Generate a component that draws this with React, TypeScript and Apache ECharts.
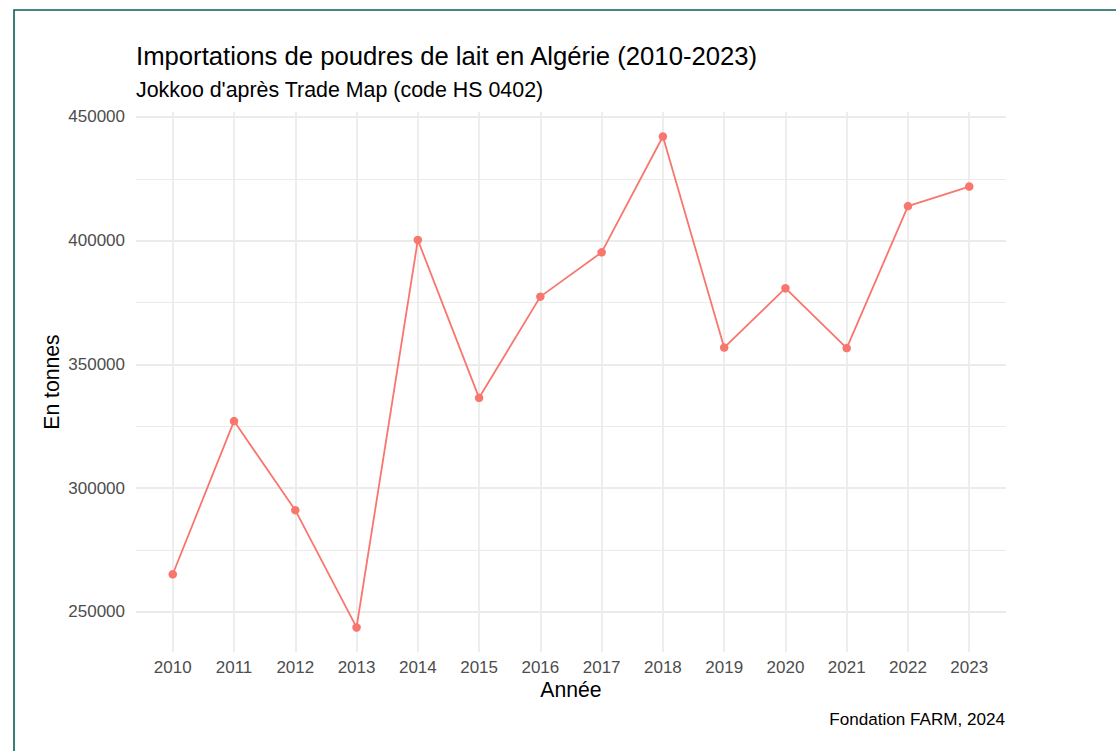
import React, { useEffect, useRef } from "react";
import * as echarts from "echarts";

const years = [2010, 2011, 2012, 2013, 2014, 2015, 2016, 2017, 2018, 2019, 2020, 2021, 2022, 2023];
const imports = [265200, 327100, 291100, 243700, 400300, 336500, 377400, 395300, 442100, 356800, 380800, 356600, 414000, 421900];
const yMajorTicks = [250000, 300000, 350000, 400000, 450000];
const yMinorTicks = [275000, 325000, 375000, 425000];

const titleText = "Importations de poudres de lait en Algérie (2010-2023)";
const subtitleText = "Jokkoo d'après Trade Map (code HS 0402)";
const captionText = "Fondation FARM, 2024";
const xName = "Année";
const yName = "En tonnes";

const FONT = "'Liberation Sans', Arial, Helvetica, sans-serif";

export default function App() {
  const ref = useRef<HTMLDivElement>(null);
  useEffect(() => {
    if (!ref.current) return;
    const chart = echarts.init(ref.current, undefined, { renderer: "svg" });
    const yLo = Math.min(...imports);
    const yHi = Math.max(...imports);
    const yPad = (yHi - yLo) * 0.05;
    const yMin = yLo - yPad;
    const yMax = yHi + yPad;
    const xMin = years[0] - 0.6;
    const xMax = years[years.length - 1] + 0.6;
    const gridLine = "#EBEBEB";
    chart.setOption({
      animation: false,
      backgroundColor: "#ffffff",
      textStyle: { fontFamily: FONT },
      title: [
        { text: titleText, left: 136, top: 43, padding: 0, textStyle: { fontFamily: FONT, fontSize: 25.7, fontWeight: "normal", color: "#000000" } },
        { text: subtitleText, left: 136, top: 79, padding: 0, textStyle: { fontFamily: FONT, fontSize: 21.4, fontWeight: "normal", color: "#000000" } },
        { text: captionText, right: 111, top: 711, padding: 0, textStyle: { fontFamily: FONT, fontSize: 17.1, fontWeight: "normal", color: "#000000" } },
      ],
      graphic: [
        { type: "rect", shape: { x: 14, y: 10, width: 1300, height: 900 }, style: { fill: "none", stroke: "#0b5f58", lineWidth: 1.6 }, silent: true },
      ],
      grid: { left: 136, right: 110, top: 112, bottom: 99, containLabel: false },
      xAxis: {
        type: "value",
        min: xMin,
        max: xMax,
        name: xName,
        nameLocation: "middle",
        nameGap: 27,
        nameMoveOverlap: false,
        nameTextStyle: { fontFamily: FONT, fontSize: 21.2, color: "#000000" },
        axisLine: { show: false },
        axisTick: { show: false, customValues: years },
        axisLabel: { customValues: years, formatter: (v: number) => String(v), fontSize: 17, color: "#4D4D4D", margin: 6.5, fontFamily: FONT },
        splitLine: { show: true, lineStyle: { color: gridLine, width: 1.8 } },
      },
      yAxis: [
        {
          type: "value",
          min: yMin,
          max: yMax,
          name: yName,
          nameLocation: "middle",
          nameGap: 74,
          nameMoveOverlap: false,
          nameRotate: 90,
          nameTextStyle: { fontFamily: FONT, fontSize: 21.2, color: "#000000" },
          axisLine: { show: false },
          axisTick: { show: false, customValues: yMajorTicks },
          axisLabel: { customValues: yMajorTicks, formatter: (v: number) => String(v), fontSize: 17, color: "#4D4D4D", margin: 11, fontFamily: FONT },
          splitLine: { show: true, lineStyle: { color: gridLine, width: 1.8 } },
          z: 1,
        },
        {
          type: "value",
          min: yMin,
          max: yMax,
          position: "left",
          axisLine: { show: false },
          axisTick: { show: false, customValues: yMinorTicks },
          axisLabel: { show: false, customValues: yMinorTicks },
          splitLine: { show: true, lineStyle: { color: gridLine, width: 1.0 } },
          z: 0,
        },
      ],
      series: [
        {
          type: "line",
          yAxisIndex: 0,
          data: years.map((y, i) => [y, imports[i]]),
          symbol: "circle",
          symbolSize: 8.5,
          lineStyle: { color: "#F8766D", width: 1.8 },
          itemStyle: { color: "#F8766D" },
          z: 5,
        },
      ],
    });
    return () => chart.dispose();
  }, []);
  return <div ref={ref} style={{ position: "absolute", left: 0, top: 0, width: 1116, height: 751 }} />;
}
